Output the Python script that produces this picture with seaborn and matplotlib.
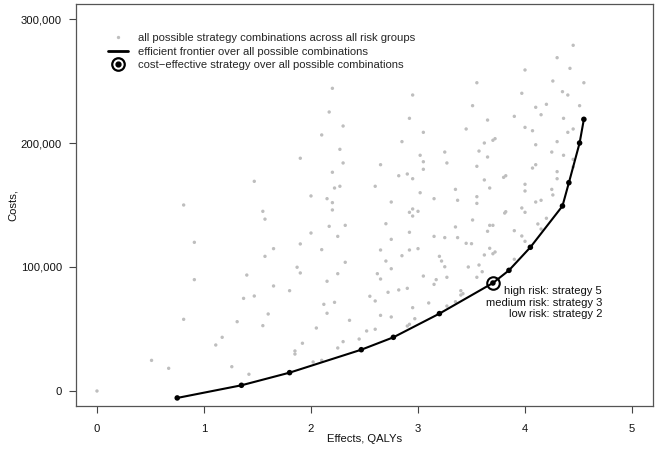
import numpy as np
import pandas as pd
import matplotlib
matplotlib.use("Agg")
import matplotlib.pyplot as plt
from matplotlib.lines import Line2D
import seaborn as sns

# all possible strategy combinations (effects in QALYs, costs in thousands)
all_x = [0.00, 0.51, 0.67, 0.81, 0.81, 0.91, 0.91, 1.11, 1.17, 1.26, 1.31, 1.37, 1.40, 1.42, 1.47, 1.47,
         1.55, 1.55, 1.57, 1.57, 1.60, 1.65, 1.65, 1.80, 1.85, 1.85, 1.87, 1.90, 1.90, 1.90, 1.92, 2.00,
         2.00, 2.02, 2.05, 2.10, 2.10, 2.10, 2.12, 2.15, 2.15, 2.15, 2.17, 2.17, 2.20, 2.20, 2.20, 2.20,
         2.22, 2.22, 2.25, 2.25, 2.25, 2.27, 2.27, 2.30, 2.30, 2.30, 2.32, 2.32, 2.36, 2.45, 2.52, 2.55,
         2.60, 2.60, 2.60, 2.62, 2.65, 2.65, 2.65, 2.65, 2.70, 2.70, 2.72, 2.75, 2.75, 2.75, 2.75, 2.82,
         2.82, 2.85, 2.85, 2.90, 2.90, 2.90, 2.92, 2.92, 2.92, 2.92, 2.92, 2.95, 2.95, 2.95, 2.95, 2.95,
         2.97, 3.00, 3.00, 3.02, 3.02, 3.05, 3.05, 3.05, 3.05, 3.10, 3.15, 3.15, 3.15, 3.17, 3.20, 3.22,
         3.25, 3.25, 3.25, 3.27, 3.27, 3.27, 3.35, 3.35, 3.35, 3.37, 3.37, 3.40, 3.40, 3.42, 3.45, 3.45,
         3.47, 3.50, 3.51, 3.51, 3.55, 3.55, 3.55, 3.55, 3.55, 3.57, 3.57, 3.60, 3.62, 3.62, 3.62, 3.65,
         3.65, 3.65, 3.67, 3.67, 3.67, 3.70, 3.70, 3.70, 3.72, 3.72, 3.80, 3.81, 3.82, 3.82, 3.90, 3.90,
         3.90, 3.97, 3.97, 3.97, 4.00, 4.00, 4.00, 4.00, 4.00, 4.00, 4.07, 4.07, 4.10, 4.10, 4.10, 4.10,
         4.12, 4.15, 4.15, 4.15, 4.20, 4.20, 4.25, 4.25, 4.26, 4.26, 4.30, 4.30, 4.30, 4.30, 4.35, 4.36,
         4.36, 4.40, 4.40, 4.42, 4.45, 4.45, 4.45, 4.45, 4.51, 4.55]
all_y = [0.0, 24.7, 18.3, 57.8, 150.0, 119.9, 89.8, 37.1, 43.3, 19.6, 55.9, 74.7, 93.5, 13.5, 76.6, 169.1,
         52.7, 144.9, 138.6, 108.6, 62.1, 114.8, 84.7, 80.9, 32.3, 29.8, 99.8, 95.2, 118.6, 187.7, 38.5, 127.4,
         157.3, 23.4, 50.8, 114.0, 206.5, 24.7, 69.9, 88.5, 62.7, 155.1, 225.0, 132.8, 244.1, 176.4, 151.9, 146.0,
         163.7, 71.5, 124.7, 94.6, 34.7, 194.9, 165.1, 213.7, 183.9, 39.8, 133.6, 103.8, 57.0, 41.9, 48.4, 76.4,
         72.6, 49.8, 165.1, 94.6, 182.5, 113.7, 90.3, 61.0, 134.9, 104.8, 79.6, 152.4, 122.3, 98.6, 59.7, 173.6,
         81.5, 201.1, 109.1, 175.0, 82.8, 52.4, 219.9, 144.1, 128.0, 113.7, 53.8, 238.7, 171.2, 146.8, 141.1, 67.2,
         58.3, 144.9, 114.8, 190.1, 159.9, 208.6, 184.9, 178.8, 92.7, 71.0, 155.1, 124.7, 86.0, 89.8, 108.6, 104.8,
         192.7, 123.7, 100.2, 183.9, 91.7, 68.5, 162.6, 132.3, 72.0, 153.8, 123.7, 80.9, 77.4, 78.5, 211.3, 119.1,
         100.0, 118.8, 230.1, 137.9, 248.6, 181.2, 156.7, 151.3, 91.7, 193.5, 101.6, 96.2, 200.0, 170.2, 109.7, 218.5,
         188.7, 128.8, 163.7, 133.6, 115.1, 202.2, 133.6, 110.7, 203.5, 112.1, 172.3, 143.5, 173.6, 144.6, 221.5, 129.3,
         106.2, 240.1, 147.6, 125.0, 258.9, 212.6, 166.7, 161.3, 144.1, 120.7, 209.9, 179.8, 228.8, 198.6, 182.5, 152.4,
         134.7, 222.8, 153.8, 130.6, 231.2, 139.3, 192.7, 162.6, 250.0, 158.1, 268.8, 201.1, 176.9, 171.2, 241.4, 219.9,
         190.1, 238.7, 208.6, 260.2, 278.8, 211.3, 186.8, 180.7, 230.1, 248.6]

# efficient frontier
front_x = [0.75, 1.35, 1.80, 2.47, 2.77, 3.20, 3.70, 3.85, 4.05, 4.35, 4.41, 4.51, 4.55]
front_y = [-5.6, 4.6, 14.8, 33.3, 43.3, 62.4, 87.1, 97.3, 115.9, 149.2, 168.0, 200.0, 219.1]

# cost-effective strategy
ce_x = [3.70]
ce_y = [87.1]
ce_text = "high risk: strategy 5\nmedium risk: strategy 3\nlow risk: strategy 2"

x_ticks = [0, 1, 2, 3, 4, 5]
y_ticks = [0, 100, 200, 300]
y_ticklabels = ["0", "100,000", "200,000", "300,000"]

legend_labels = ["all possible strategy combinations across all risk groups",
                 "efficient frontier over all possible combinations",
                 "cost\u2212effective strategy over all possible combinations"]

FS = 8.1

sns.set_style("white")
plt.rcParams['font.family'] = ['Liberation Sans', 'DejaVu Sans']

fig = plt.figure(figsize=(6.57, 4.49), dpi=100)
ax = fig.add_axes([76/657, 1-406/449, 577/657, 402/449])

df_all = pd.DataFrame({"x": all_x, "y": all_y})
df_front = pd.DataFrame({"x": front_x, "y": front_y})

sns.scatterplot(data=df_all, x="x", y="y", ax=ax, color="#BEBEBE", s=6,
                edgecolor="none", linewidth=0, legend=False, zorder=2)
sns.lineplot(data=df_front, x="x", y="y", ax=ax, color="black", lw=1.5,
             sort=False, estimator=None, legend=False, zorder=3)
sns.scatterplot(data=df_front, x="x", y="y", ax=ax, color="black", s=16,
                edgecolor="none", linewidth=0, legend=False, zorder=4)
ax.plot(ce_x, ce_y, marker="o", markersize=9, markerfacecolor="none",
        markeredgecolor="black", markeredgewidth=1.5, linestyle="", zorder=5)

ax.text(ce_x[0] + 1.02, ce_y[0] - 2.5, ce_text, ha="right", va="top",
        fontsize=FS, linespacing=1.18, color="#111111")

ax.set_xlim(-0.196, 5.196)
ax.set_ylim(-12.1, 312.1)
ax.set_xticks(x_ticks)
ax.set_xticklabels([str(t) for t in x_ticks])
ax.set_yticks(y_ticks)
ax.set_yticklabels(y_ticklabels)
ax.tick_params(axis="both", direction="out", length=5, width=0.8, color="#444444",
               labelsize=FS, labelcolor="#111111", pad=5, left=True, bottom=True)
ax.tick_params(axis="x", pad=8)
for sp in ax.spines.values():
    sp.set_visible(True)
    sp.set_color("#555555")
    sp.set_linewidth(0.9)

ax.set_xlabel("Effects, QALYs", fontsize=FS, color="#111111", labelpad=0)
ax.set_ylabel("Costs,", fontsize=FS, color="#111111", labelpad=2)

h_pts = Line2D([], [], marker="o", color="#BEBEBE", linestyle="", markersize=2.4, markeredgewidth=0)
h_line = Line2D([], [], color="black", lw=2)
h_c1 = Line2D([], [], marker="o", markersize=9, markerfacecolor="none", markeredgecolor="black",
              markeredgewidth=1.6, linestyle="")
h_c2 = Line2D([], [], marker="o", markersize=3.5, color="black", linestyle="")
ax.legend([h_pts, h_line, (h_c1, h_c2)], legend_labels, loc="upper left",
          bbox_to_anchor=((108 - 76) / 577, 1 - (33 - 4) / 402), frameon=False,
          fontsize=FS, handlelength=1.8, handletextpad=0.87, labelspacing=0.32,
          borderaxespad=0, borderpad=0)

fig.savefig("out.png", dpi=100)
